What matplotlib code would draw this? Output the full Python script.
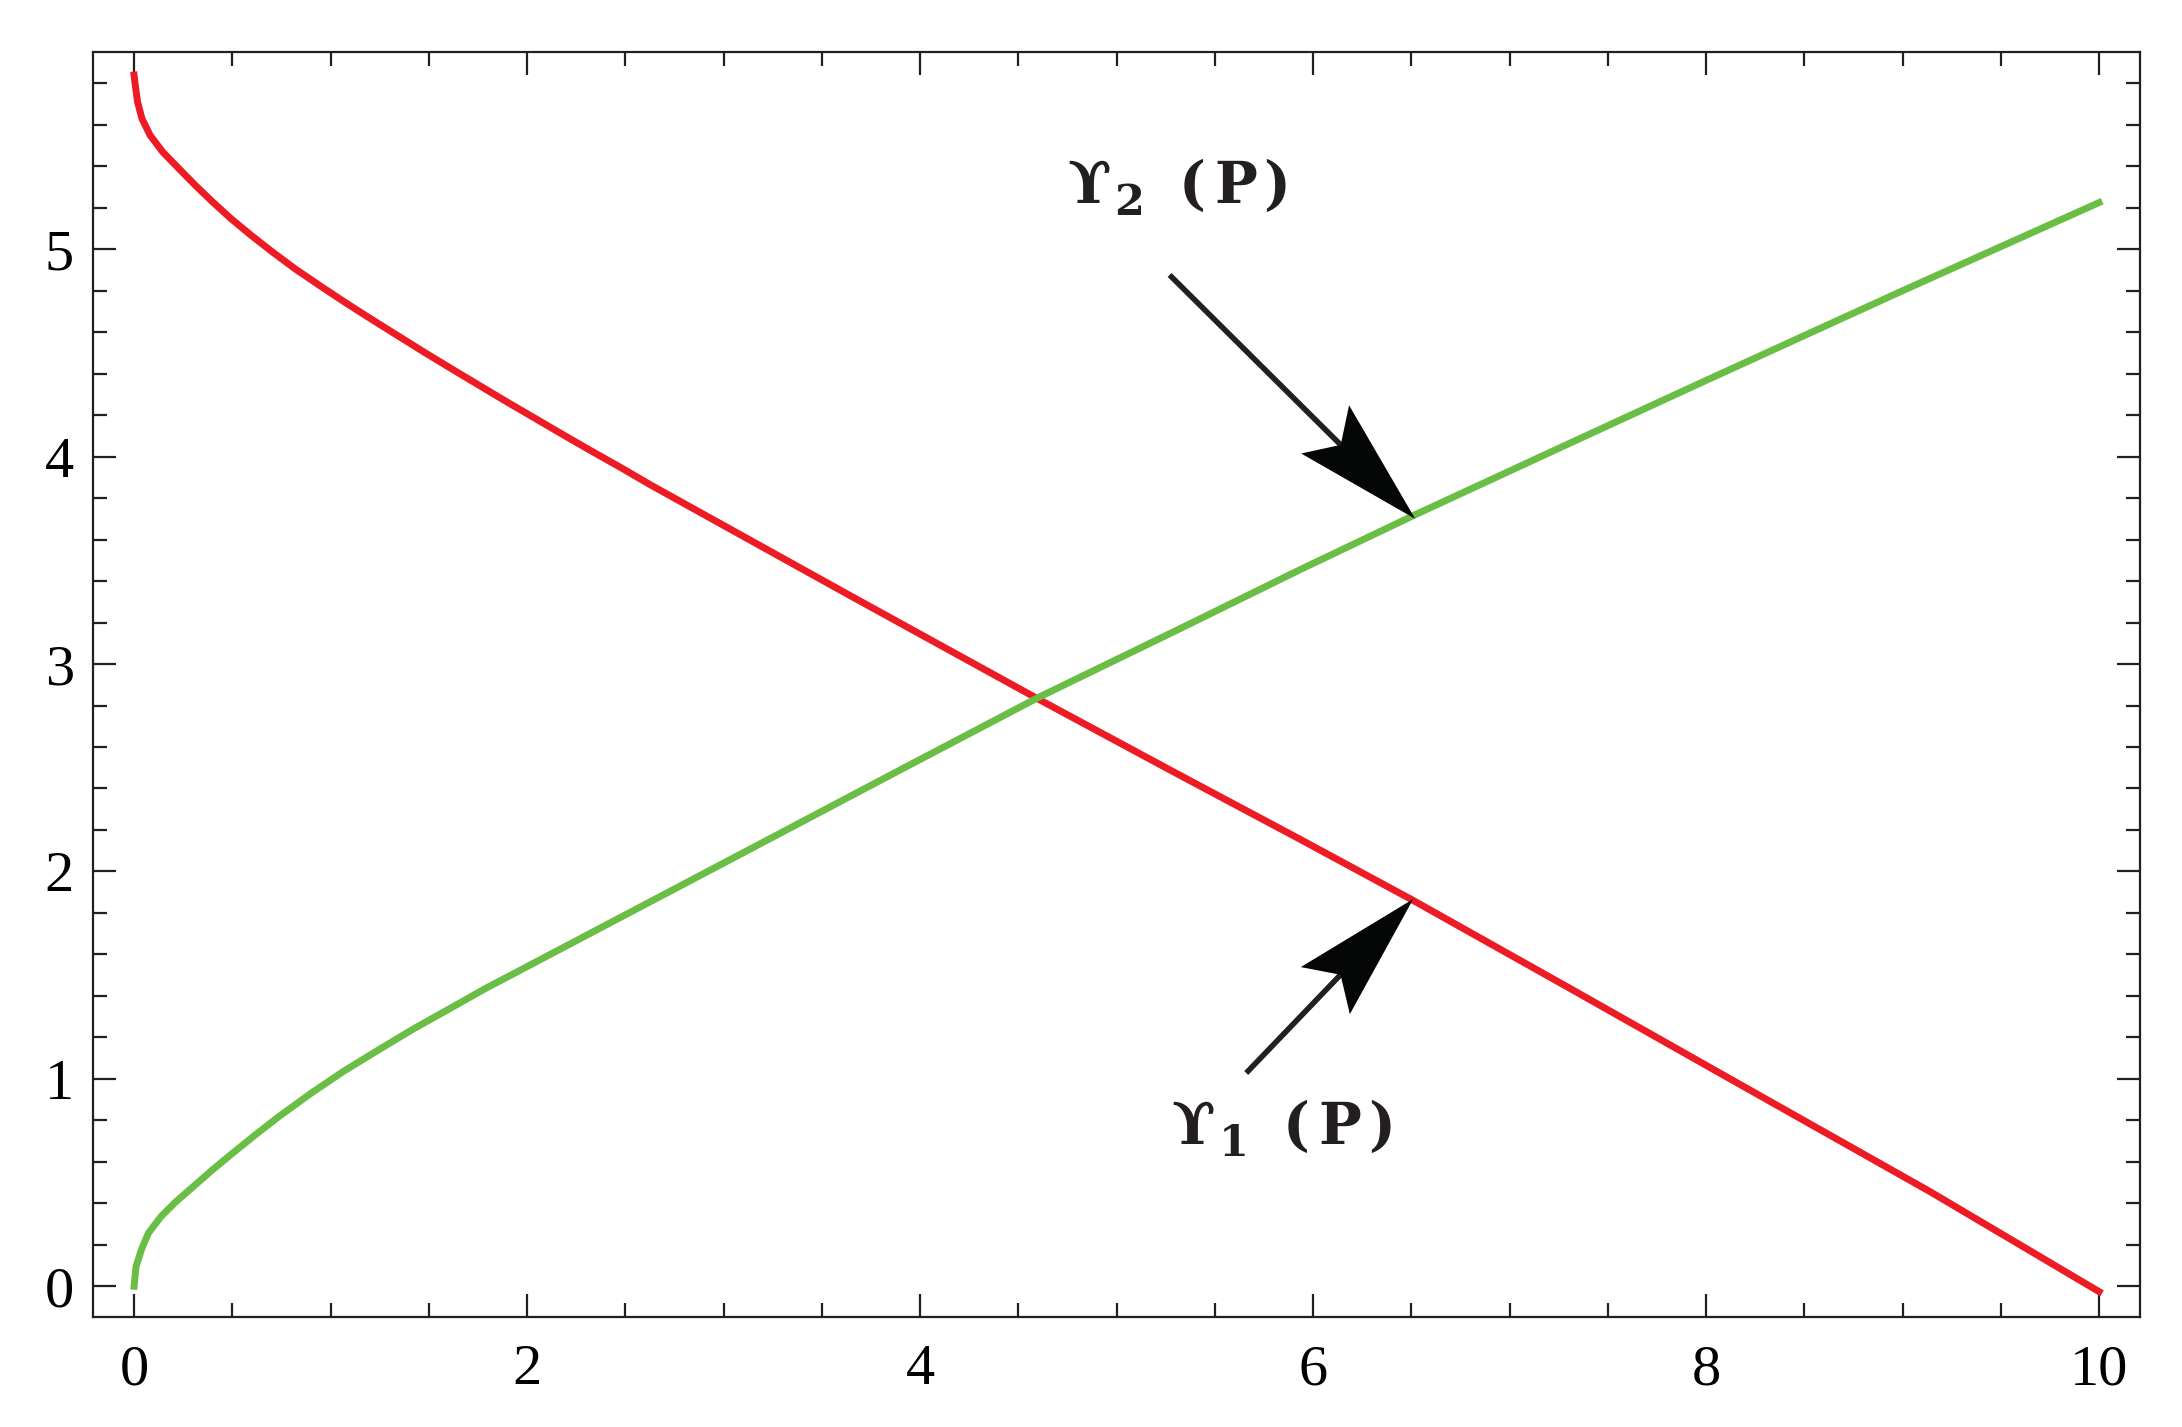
import numpy as np
import matplotlib
matplotlib.use('Agg')
import matplotlib.pyplot as plt
from matplotlib.ticker import MultipleLocator
from matplotlib.patches import Polygon

plt.rcParams['font.family'] = ['Liberation Serif']

# curva roja: Y1(P)
p_rojo = [0.0, 0.006, 0.018, 0.04, 0.082, 0.146, 0.228, 0.312, 0.40, 0.494,
          0.596, 0.704, 0.819, 0.943, 1.072, 1.204, 1.339, 1.476, 1.615, 1.756,
          1.899, 2.044, 2.19, 2.337, 2.487, 2.626, 3.644, 4.594, 5.30, 5.934,
          6.51, 7.30, 8.122, 9.14, 10.0]
y1_rojo = [5.84, 5.791, 5.71, 5.63, 5.549, 5.469, 5.389, 5.308, 5.228, 5.147,
           5.067, 4.987, 4.906, 4.826, 4.745, 4.665, 4.585, 4.504, 4.424, 4.344,
           4.263, 4.183, 4.102, 4.022, 3.942, 3.865, 3.33, 2.835, 2.475, 2.155,
           1.86, 1.44, 1.00, 0.456, -0.026]

# curva verde: Y2(P)
p_verde = [0.0, 0.01, 0.037, 0.073, 0.137, 0.21, 0.319, 0.40, 0.501, 0.62,
           0.737, 0.90, 1.064, 1.25, 1.428, 1.60, 1.791, 2.0, 2.517, 3.25,
           3.90, 4.594, 5.30, 5.934, 6.52, 7.25, 7.969, 9.0, 10.0]
y2_verde = [0.0, 0.095, 0.175, 0.256, 0.336, 0.405, 0.495, 0.562, 0.641, 0.732,
            0.818, 0.93, 1.035, 1.143, 1.244, 1.335, 1.437, 1.541, 1.799, 2.165,
            2.49, 2.835, 3.16, 3.455, 3.72, 4.04, 4.354, 4.80, 5.225]

xticks = [0, 2, 4, 6, 8, 10]
yticks = [0, 1, 2, 3, 4, 5]

# flechas: (cola, punta) en datos
flecha_y2 = ((5.27, 4.876), (6.52, 3.70))
flecha_y1 = ((5.66, 1.028), (6.51, 1.867))
etiqueta_y2 = (4.748, 5.223, '2')
etiqueta_y1 = (5.28, 0.686, '1')

gris = '#231F20'
fuente_etiqueta = ['DejaVu Serif']

fig = plt.figure(figsize=(10.91, 7.135), dpi=200)
ax = fig.add_axes([0.0428, 0.0773, 0.9380, 0.8861])

ax.plot(p_rojo, y1_rojo, color='#ED1C24', lw=2.5)
ax.plot(p_verde, y2_verde, color='#6ABD45', lw=2.5)

ax.set_xlim(-0.207, 10.209)
ax.set_ylim(-0.147, 5.95)
ax.set_xticks(xticks)
ax.set_yticks(yticks)
ax.xaxis.set_minor_locator(MultipleLocator(0.5))
ax.yaxis.set_minor_locator(MultipleLocator(0.2))
ax.tick_params(which='both', direction='in', top=True, right=True, color=gris, width=0.8,
               labelsize=21, labelcolor='black')
ax.tick_params(which='major', length=8.3)
ax.tick_params(which='minor', length=5.2)
ax.tick_params(axis='x', pad=10)
ax.tick_params(axis='y', pad=7)
for s in ax.spines.values():
    s.set_color(gris)
    s.set_linewidth(0.8)


def dibujar_flecha(ax, cola, punta):
    # punta con aletas hacia atras, en pixeles
    t0 = ax.transData.transform(cola)
    t1 = ax.transData.transform(punta)
    u = (t1 - t0) / np.hypot(*(t1 - t0))
    n = np.array([-u[1], u[0]])
    largo, ancho, muesca = 127, 34, 105
    verts = [t1, t1 - largo * u + ancho * n, t1 - muesca * u, t1 - largo * u - ancho * n]
    verts = ax.transData.inverted().transform(np.array(verts))
    ax.add_patch(Polygon(verts, closed=True, facecolor='#050707', edgecolor='none', zorder=5))
    fin = ax.transData.inverted().transform(t1 - (muesca - 5) * u)
    ax.plot([cola[0], fin[0]], [cola[1], fin[1]], color=gris, lw=2.0, solid_capstyle='butt', zorder=4)


def dibujar_etiqueta(ax, x, y, sub):
    kw = dict(xycoords='data', textcoords='offset points', ha='left', va='baseline',
              color=gris, fontweight='bold', fontfamily=fuente_etiqueta)
    ax.annotate('\u03d2', xy=(x, y), xytext=(0, 0), fontsize=20.5, **kw)
    ax.annotate(sub, xy=(x, y), xytext=(17, -4.3), fontsize=15.5, **kw)
    # letras a paso fijo, como una fuente monoespaciada
    for letra, dx in (('(', 40), ('P', 52.9), (')', 70.6)):
        ax.annotate(letra, xy=(x, y), xytext=(dx, 0), fontsize=20.5, **kw)


dibujar_flecha(ax, *flecha_y2)
dibujar_flecha(ax, *flecha_y1)
dibujar_etiqueta(ax, *etiqueta_y2)
dibujar_etiqueta(ax, *etiqueta_y1)

plt.savefig('out.png', dpi=200)
